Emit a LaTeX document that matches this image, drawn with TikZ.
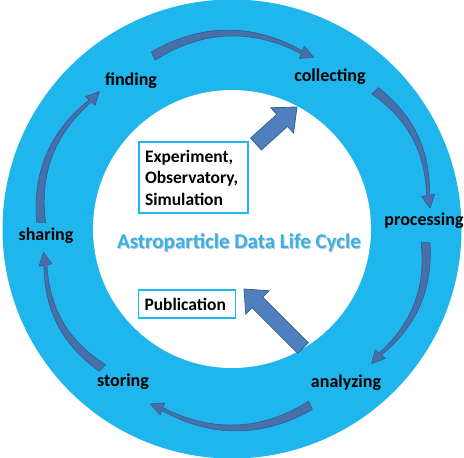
\documentclass[tikz,border=0pt]{standalone}
\usepackage{fontspec}
\setmainfont{Carlito}
\usetikzlibrary{calc}
\definecolor{ringblue}{HTML}{1FB6ED}
\definecolor{titleblue}{HTML}{36B2E6}
\definecolor{arrfill}{HTML}{4F7FBD}
\definecolor{arrdraw}{HTML}{3A5F8F}
\definecolor{carrfill}{HTML}{4770AA}
\definecolor{carrdraw}{HTML}{365A8C}
\tikzset{
  steplabel/.style={font=\bfseries\fontsize{18}{20}\selectfont, text=black, inner sep=1pt},
  infobox/.style={draw=ringblue, line width=1.4pt, fill=white, font=\bfseries\fontsize{17.5}{21.5}\selectfont, align=left, inner sep=0pt},
  titlestyle/.style={font=\bfseries\fontsize{21}{24}\selectfont},
  blockarrow/.style={fill=arrfill, draw=arrdraw, line width=0.8pt, line join=miter},
  curvedarrow/.style={fill=carrfill, draw=carrdraw, line width=0.6pt, line join=round}
}
\newcommand{\carrow}[3]{%
  \pgfmathsetmacro{\hb}{#2+13/#3*57.2958}%
  \path[curvedarrow]
    plot[domain=0:1,samples=40,variable=\t]
      ({232+(#3+6*sin(180*\t)+4.5-3*\t)*cos(#1+(\hb-#1)*\t)},
       {229-(#3+6*sin(180*\t)+4.5-3*\t)*sin(#1+(\hb-#1)*\t)})
    -- ({232+(#3+6.5)*cos(\hb)},{229-(#3+6.5)*sin(\hb)})
    -- ({232+#3*cos(#2)},{229-#3*sin(#2)})
    -- ({232+(#3-6.5)*cos(\hb)},{229-(#3-6.5)*sin(\hb)})
    -- plot[domain=0:1,samples=40,variable=\t]
      ({232+(#3+6*sin(180*(1-\t))-4.5+3*(1-\t))*cos(#1+(\hb-#1)*(1-\t))},
       {229-(#3+6*sin(180*(1-\t))-4.5+3*(1-\t))*sin(#1+(\hb-#1)*(1-\t))})
    -- cycle;}
\newcommand{\blockarr}[5]{% tail, tip, shaft half, head half, head length
  \coordinate (bb) at ($(#2)!#5pt!(#1)$);
  \path[blockarrow] ($(#1)!#3pt!90:(#2)$) -- ($(bb)!#3pt!90:(#2)$) -- ($(bb)!#4pt!90:(#2)$)
    -- (#2) -- ($(bb)!#4pt!-90:(#2)$) -- ($(bb)!#3pt!-90:(#2)$) -- ($(#1)!#3pt!-90:(#2)$) -- cycle;}
\begin{document}
\begin{tikzpicture}[x=1pt,y=-1pt]
\useasboundingbox (0,0) rectangle (464,458);
\fill[ringblue] (232,229) circle (229.5pt);
\fill[white] (232,229) circle (139pt);
% curved arrows
\carrow{114.5}{64.5}{190}
\carrow{44}{6}{199}
\carrow{-4}{-44}{194}
\carrow{-66}{-115}{193}
\carrow{-133}{-173}{190}
\carrow{178}{134}{191}
% labels
\node[steplabel] (finding) at (131,81) {finding};
\node[steplabel] (collecting) at (330,77) {collecting};
\node[steplabel] (processing) at (424,221) {processing};
\node[steplabel] (analyzing) at (346,383) {analyzing};
\node[steplabel] (storing) at (123,382) {storing};
\node[steplabel] (sharing) at (46,236) {sharing};
% title
\node[titlestyle, text=black!22] (titleshadow) at (240,244) {Astroparticle Data Life Cycle};
\node[titlestyle, text=titleblue] (title) at (239,243) {Astroparticle Data Life Cycle};
% boxes
\node[infobox, minimum width=109pt, minimum height=71pt, text width=97pt] (exp) at (193.5,177.5) {Experiment,\\Observatory,\\Simulation};
\node[infobox, minimum width=97pt, minimum height=28pt, text width=85pt] (pub) at (187,304) {Publication};
% block arrows
\coordinate (t1) at (256,144);
\coordinate (p1) at (297,107);
\blockarr{t1}{p1}{8}{17}{20}
\coordinate (t2) at (303,348);
\coordinate (p2) at (244,289);
\blockarr{t2}{p2}{7.5}{16.5}{19}
\end{tikzpicture}
\end{document}
